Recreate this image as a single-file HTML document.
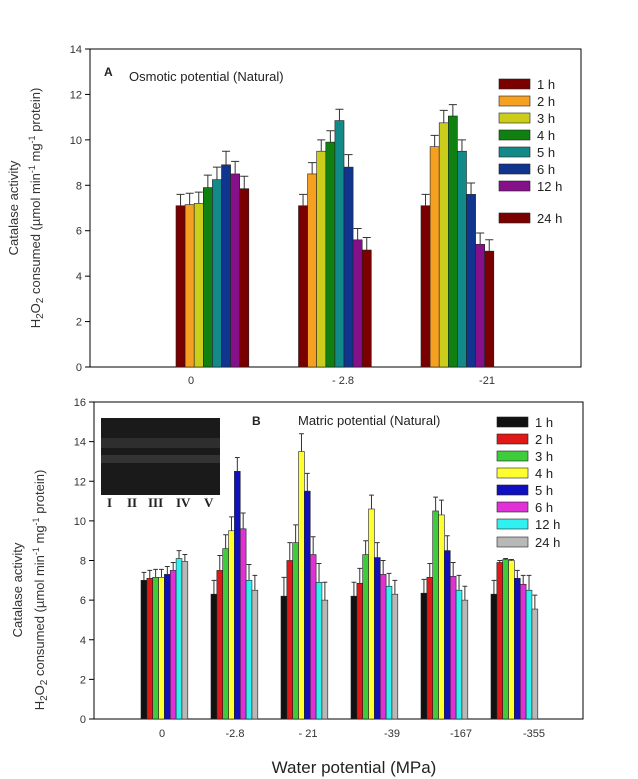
<!DOCTYPE html>
<html><head><meta charset="utf-8">
<style>
html,body{margin:0;padding:0;background:#fff;}
svg{display:block;font-family:"Liberation Sans",Arial,sans-serif;}
</style></head>
<body>
<svg id="chart" width="638" height="779" viewBox="0 0 638 779" xmlns="http://www.w3.org/2000/svg">
  <!-- Panel A static -->
  <g>
    <rect x="90" y="49" width="491" height="318" fill="none" stroke="#000" stroke-width="1"/>
    <text x="104" y="76" font-size="12" font-weight="bold" fill="#222">A</text>
    <text x="129" y="81" font-size="13" fill="#222">Osmotic potential (Natural)</text>
    <g id="axA"></g>
    <g id="barsA"></g>
    <g id="legA"></g>
    <text transform="translate(18,208) rotate(-90)" text-anchor="middle" font-size="13" fill="#333">Catalase activity</text>
    <text transform="translate(40,208) rotate(-90)" text-anchor="middle" font-size="13" fill="#333">H<tspan font-size="10" dy="3">2</tspan><tspan dy="-3">O</tspan><tspan font-size="10" dy="3">2</tspan><tspan dy="-3"> consumed (µmol min</tspan><tspan font-size="9" dy="-5">-1</tspan><tspan dy="5"> mg</tspan><tspan font-size="9" dy="-5">-1</tspan><tspan dy="5"> protein)</tspan></text>
  </g>
  <!-- Panel B static -->
  <g>
    <rect x="94" y="402" width="489" height="317" fill="none" stroke="#000" stroke-width="1"/>
    <g>
      <rect x="101" y="418" width="119" height="77" fill="#1a1a1a"/>
      <rect x="101" y="438" width="119" height="10" fill="#333" opacity="0.8"/>
      <rect x="101" y="455" width="119" height="8" fill="#3a3a3a" opacity="0.8"/>
      <text y="507" font-family="Liberation Serif,serif" font-weight="bold" font-size="13" fill="#222"><tspan x="107">I</tspan><tspan x="127">II</tspan><tspan x="148">III</tspan><tspan x="176">IV</tspan><tspan x="204">V</tspan></text>
    </g>
    <text x="252" y="425" font-size="12" font-weight="bold" fill="#222">B</text>
    <text x="298" y="425" font-size="13" fill="#222">Matric potential (Natural)</text>
    <g id="axB"></g>
    <g id="barsB"></g>
    <g id="legB"></g>
    <text transform="translate(22,590) rotate(-90)" text-anchor="middle" font-size="13" fill="#333">Catalase activity</text>
    <text transform="translate(44,590) rotate(-90)" text-anchor="middle" font-size="13" fill="#333">H<tspan font-size="10" dy="3">2</tspan><tspan dy="-3">O</tspan><tspan font-size="10" dy="3">2</tspan><tspan dy="-3"> consumed (µmol min</tspan><tspan font-size="9" dy="-5">-1</tspan><tspan dy="5"> mg</tspan><tspan font-size="9" dy="-5">-1</tspan><tspan dy="5"> protein)</tspan></text>
  </g>
  <text x="354" y="773" text-anchor="middle" font-size="17" fill="#222">Water potential (MPa)</text>
</svg>
<script>
// ---- Panel A data ----
const catsA = ["0", "- 2.8", "-21"];
const seriesNamesA = ["1 h","2 h","3 h","4 h","5 h","6 h","12 h","24 h"];
const colorsA = ["#7a0000","#f5a020","#cccc1a","#108010","#138a8a","#10358f","#85108a","#7a0000"];
const valsA = [
  [7.1, 7.15, 7.2, 7.9, 8.25, 8.9, 8.5, 7.85],
  [7.1, 8.5, 9.5, 9.9, 10.85, 8.8, 5.6, 5.15],
  [7.1, 9.7, 10.75, 11.05, 9.5, 7.6, 5.4, 5.1]
];
const errA = [
  [0.5, 0.5, 0.5, 0.55, 0.55, 0.6, 0.55, 0.55],
  [0.5, 0.5, 0.5, 0.5, 0.5, 0.55, 0.5, 0.55],
  [0.5, 0.5, 0.55, 0.5, 0.5, 0.5, 0.5, 0.5]
];
const ticksA = [0,2,4,6,8,10,12,14];
// ---- Panel B data ----
const catsB = ["0", "-2.8", "- 21", "-39", "-167", "-355"];
const seriesNamesB = ["1 h","2 h","3 h","4 h","5 h","6 h","12 h","24 h"];
const colorsB = ["#111111","#e01818","#3ccc3c","#ffff30","#1010c0","#e030d8","#30f0f0","#b8b8b8"];
const valsB = [
  [7.0, 7.1, 7.15, 7.15, 7.3, 7.5, 8.1, 7.95],
  [6.3, 7.5, 8.6, 9.5, 12.5, 9.6, 7.0, 6.5],
  [6.2, 8.0, 8.9, 13.5, 11.5, 8.3, 6.9, 6.0],
  [6.2, 6.85, 8.3, 10.6, 8.15, 7.3, 6.7, 6.3],
  [6.35, 7.15, 10.5, 10.3, 8.5, 7.2, 6.5, 6.0],
  [6.3, 7.9, 8.05, 8.0, 7.1, 6.8, 6.5, 5.55]
];
const errB = [
  [0.4, 0.4, 0.4, 0.4, 0.4, 0.4, 0.4, 0.35],
  [0.7, 0.75, 0.7, 0.7, 0.7, 0.8, 0.8, 0.75],
  [0.95, 0.9, 0.9, 0.9, 0.9, 0.9, 0.95, 0.9],
  [0.7, 0.75, 0.7, 0.7, 0.75, 0.7, 0.65, 0.7],
  [0.7, 0.7, 0.7, 0.75, 0.75, 0.7, 0.75, 0.7],
  [0.7, 0.1, 0.05, 0.05, 0.4, 0.45, 0.75, 0.7]
];
const ticksB = [0,2,4,6,8,10,12,14,16];

const NS = "http://www.w3.org/2000/svg";
function mk(tag, attrs, parent){
  const e = document.createElementNS(NS, tag);
  for (const k in attrs) e.setAttribute(k, attrs[k]);
  parent.appendChild(e);
  return e;
}

function drawPanel(cfg){
  const {axG, barsG, legG, cats, vals, errs, ticks, colors, names, y0, yTopPx, yMax, xLeft, groupStart, groupStep, barW, labelX, labelY, leg} = cfg;
  const yScale = v => y0 - (v / yMax) * (y0 - yTopPx);
  const xScale = (gi, si) => groupStart + gi * groupStep + si * barW;
  ticks.forEach(t => {
    const y = yScale(t);
    const tk = mk("line", {x1: xLeft - 5, x2: xLeft, y1: y, y2: y, stroke: "#000", "stroke-width": 1}, axG);
    
    
    const lb = mk("text", {x: xLeft - 8, y: y + 4, "text-anchor": "end", "font-size": 11, fill: "#333"}, axG);
    lb.textContent = t;
    
    
  });
  cats.forEach((c, gi) => {
    const lb = mk("text", {x: labelX[gi], y: labelY, "text-anchor": "middle", "font-size": 11, fill: "#333"}, axG);
    lb.textContent = c;
    
    
    vals[gi].forEach((v, si) => {
      const x = xScale(gi, si);
      const yv = yScale(v);
      const r = mk("rect", {x: x, y: yv, width: barW, height: y0 - yv, fill: colors[si], stroke: "#222", "stroke-width": 0.6}, barsG);
      
      
      const ye = yScale(v + errs[gi][si]);
      const cx = x + barW / 2;
      const eb = mk("path", {d: `M${cx},${yv} V${ye} M${x + 0.5},${ye} H${x + barW - 0.5}`, stroke: "#333", "stroke-width": 1, fill: "none"}, barsG);
      
      
    });
  });
  names.forEach((n, i) => {
    const yc = leg.rows[i];
    const sw = mk("rect", {x: leg.x, y: yc - 5, width: 31, height: 10, fill: colors[i], stroke: "#222", "stroke-width": 0.6}, legG);
    
    
    const t = mk("text", {x: leg.x + 38, y: yc + 5, "font-size": 13, fill: "#222"}, legG);
    t.textContent = n;
    
    
  });
}

drawPanel({
  axG: document.getElementById("axA"), barsG: document.getElementById("barsA"), legG: document.getElementById("legA"),
  cats: catsA, vals: valsA, errs: errA, ticks: ticksA, colors: colorsA, names: seriesNamesA,
  y0: 367, yTopPx: 49, yMax: 14, xLeft: 90, groupStart: 176, groupStep: 122.5, barW: 9.1,
  labelX: [191, 343, 487], labelY: 384,
  leg: {x: 499, rows: [84, 101, 118, 135, 152, 169, 186, 218]}
});
drawPanel({
  axG: document.getElementById("axB"), barsG: document.getElementById("barsB"), legG: document.getElementById("legB"),
  cats: catsB, vals: valsB, errs: errB, ticks: ticksB, colors: colorsB, names: seriesNamesB,
  y0: 719, yTopPx: 402, yMax: 16, xLeft: 94, groupStart: 141, groupStep: 70, barW: 5.85,
  labelX: [162, 235, 308, 392, 461, 534], labelY: 737,
  leg: {x: 497, rows: [422, 439, 456, 473, 490, 507, 524, 542]}
});
</script>
</body></html>
